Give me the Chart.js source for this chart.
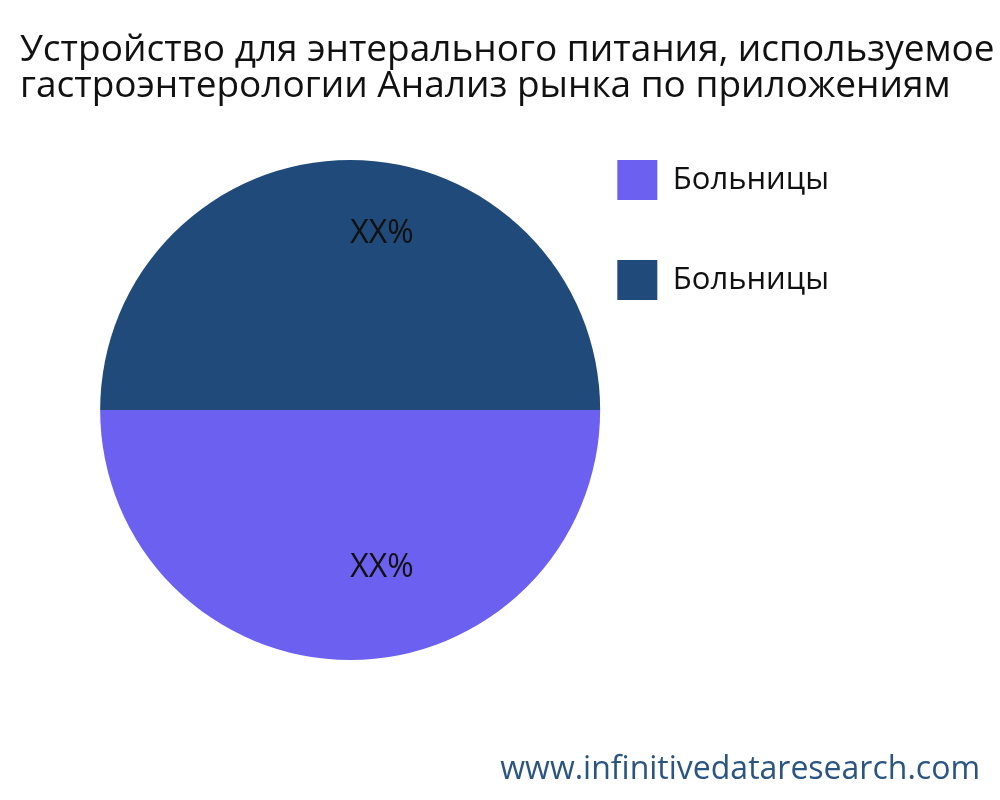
<!DOCTYPE html>
<html>
<head>
<meta charset="utf-8">
<script src="https://cdn.jsdelivr.net/npm/chart.js@4"></script>
<style>
  html, body { margin: 0; padding: 0; background: #fff; }
  #wrap { width: 1000px; height: 800px; }
</style>
</head>
<body>
<div id="wrap"><canvas id="marketChart" width="1000" height="800"></canvas></div>
<script>
const titleLines = ['Устройство для энтерального питания, используемое в', 'гастроэнтерологии Анализ рынка по приложениям'];
const categories = ['Больницы', 'Больницы'];
const shares = [50, 50];
const shareLabels = ['XX%', 'XX%'];
const colors = ['rgb(108, 96, 240)', 'rgb(31, 74, 122)'];
const watermark = 'www.infinitivedataresearch.com';

const FONT = '"Open Sans", "Noto Sans", sans-serif';

// title drawn by hand so that the first line can run past the edge like the original
const titlePlugin = {
  id: 'plainTitle',
  afterDraw(chart) {
    const ctx = chart.ctx;
    ctx.save();
    ctx.font = '37px ' + FONT;
    ctx.fillStyle = '#111';
    ctx.textAlign = 'left';
    ctx.textBaseline = 'alphabetic';
    titleLines.forEach((line, i) => ctx.fillText(line, 20, 61 + i * 36));
    ctx.font = '32px ' + FONT;
    ctx.fillStyle = 'rgb(42, 85, 128)';
    ctx.textAlign = 'right';
    ctx.fillText(watermark, 980, 779);
    ctx.restore();
  }
};

const sliceLabels = {
  id: 'sliceLabels',
  afterDatasetsDraw(chart) {
    const ctx = chart.ctx;
    const meta = chart.getDatasetMeta(0);
    ctx.save();
    ctx.font = '32px ' + FONT;
    ctx.fillStyle = '#111';
    ctx.textAlign = 'left';
    ctx.textBaseline = 'alphabetic';
    meta.data.forEach((arc, i) => {
      const { x, y, startAngle, endAngle, outerRadius } = arc.getProps(['x', 'y', 'startAngle', 'endAngle', 'outerRadius'], true);
      const mid = (startAngle + endAngle) / 2;
      const r = outerRadius * 2 / 3;
      ctx.fillText(shareLabels[i], x + Math.cos(mid) * r, y + Math.sin(mid) * r);
    });
    ctx.restore();
  }
};

new Chart(document.getElementById('marketChart'), {
  type: 'pie',
  data: {
    labels: categories,
    datasets: [{
      data: shares,
      backgroundColor: colors,
      borderWidth: 0
    }]
  },
  options: {
    responsive: false,
    animation: false,
    rotation: 90,
    radius: 250,
    layout: { padding: { top: 100, left: 143, right: 161, bottom: 80 } },
    plugins: {
      title: { display: false },
      tooltip: { enabled: false },
      legend: {
        position: 'right',
        align: 'start',
        labels: {
          boxWidth: 40,
          boxHeight: 40,
          padding: 60,
          color: '#111',
          font: { family: FONT, size: 31 }
        }
      }
    }
  },
  plugins: [titlePlugin, sliceLabels]
});
</script>
</body>
</html>
